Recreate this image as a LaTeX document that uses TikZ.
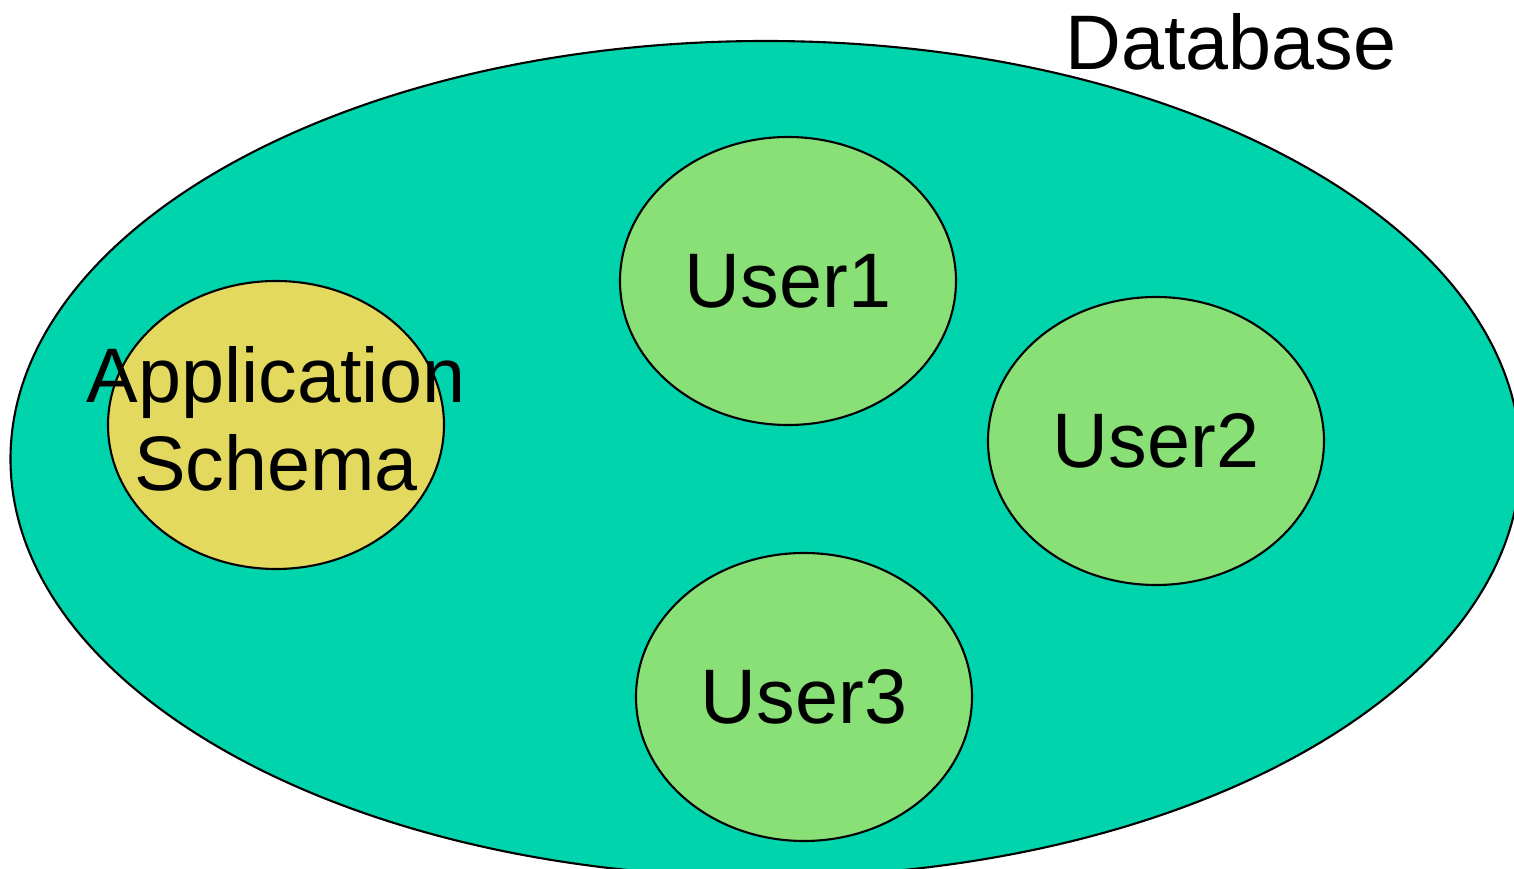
\documentclass[tikz,border=0pt]{standalone}
\usepackage{fontspec}
\setmainfont{Liberation Sans}
\usepackage{xcolor}
\usetikzlibrary{shapes.geometric}

\definecolor{dbteal}{HTML}{00D4AC}
\definecolor{usergreen}{HTML}{88E077}
\definecolor{appyellow}{HTML}{E2D95E}

\begin{document}
\begin{tikzpicture}[
  blob/.style={draw, ellipse, line width=0.6pt, minimum width=3.36cm, minimum height=2.88cm,
               inner sep=0pt},
  user/.style={blob, fill=usergreen, font=\fontsize{22}{25}\selectfont},
  lbl/.style={font=\fontsize{22}{25}\selectfont, align=center, inner sep=0pt}
]
\useasboundingbox (0,0) rectangle (15.14,-8.69);

%% Database (outer region, runs off the right and bottom edge)
\node[draw, ellipse, line width=0.6pt, fill=dbteal, minimum width=15.1cm, minimum height=8.36cm]
  (ndb) at (7.655,-4.59) {};
\node[lbl, anchor=base] (ndbl) at (12.31,-0.70) {Database};

%% Application schema (text is wider than its ellipse)
\node[blob, fill=appyellow] (napp) at (2.76,-4.25) {};
\node[lbl] (nappl) at ([yshift=0.06cm]napp.center) {Application\\Schema};

%% Users
\node[user] (nu1) at (7.88,-2.81) {User1};
\node[user] (nu2) at (11.56,-4.41) {User2};
\node[user] (nu3) at (8.04,-6.97) {User3};
\end{tikzpicture}
\end{document}
